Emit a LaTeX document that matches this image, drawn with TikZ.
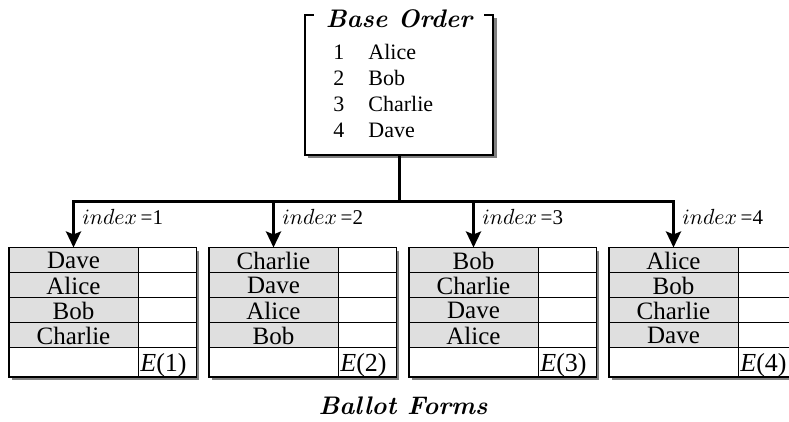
\documentclass[tikz,border=0pt]{standalone}
\usepackage{fontspec}
\newfontfamily\tnr{Liberation Serif}
\usetikzlibrary{arrows.meta}
\definecolor{cellgray}{gray}{0.875}
\definecolor{shadowgray}{gray}{0.5}
\tikzset{
  frame/.style={draw=black, line width=0.75pt},
  shadowfill/.style={fill=shadowgray, draw=none},
  cellbase/.style={draw=black, line width=0.5pt, inner sep=0pt, minimum height=12.5pt},
  namecell/.style={cellbase, fill=cellgray, minimum width=64.5pt, font=\tnr\fontsize{12.5}{14}\selectfont},
  sidecell/.style={cellbase, fill=white, minimum width=29pt},
  lastname/.style={cellbase, fill=white, minimum width=64.5pt, minimum height=14.5pt},
  lastside/.style={cellbase, fill=white, minimum width=29pt, minimum height=14.5pt},
  elabel/.style={font=\tnr\fontsize{13}{15}\selectfont, inner sep=0pt},
  idxlabel/.style={font=\tnr\fontsize{10.5}{12}\selectfont, inner sep=0pt, anchor=base west},
  listtext/.style={font=\tnr\fontsize{11}{13}\selectfont, inner sep=0pt, anchor=base west},
  titletext/.style={font=\bfseries\itshape\fontsize{12.7}{15}\selectfont, fill=white, inner xsep=6pt, inner ysep=1pt},
  feed/.style={line width=1.5pt, -{Stealth[length=8pt,width=7.5pt,inset=1.5pt]}},
  stem/.style={line width=1.5pt},
}
\begin{document}
\begin{tikzpicture}[x=0.5pt, y=-0.5pt]
  \clip (0,0) rectangle (789,422);
  \fill[white] (0,0) rectangle (789,422);

  % Base order box
  \fill[shadowfill] (308,18) rectangle (497,158);
  \node[frame, fill=white, minimum width=94pt, minimum height=70pt, inner sep=0pt] (base) at (399,85) {};
  \node[titletext] (title) at (399,19) {Base Order};
  \node[listtext] (n1) at (333,60) {1};
  \node[listtext] (a1) at (368,60) {Alice};
  \node[listtext] (n2) at (333,86) {2};
  \node[listtext] (a2) at (368,86) {Bob};
  \node[listtext] (n3) at (333,112) {3};
  \node[listtext] (a3) at (368,112) {Charlie};
  \node[listtext] (n4) at (333,138) {4};
  \node[listtext] (a4) at (368,138) {Dave};

  \coordinate (hub) at (399,202);
  \draw[stem] (base.south) -- (hub);

  % Ballot forms
  \foreach \k/\a/\b/\c/\d in {0/Dave/Alice/Bob/Charlie, 1/Charlie/Dave/Alice/Bob, 2/Bob/Charlie/Dave/Alice, 3/Alice/Bob/Charlie/Dave}{
    \pgfmathsetmacro\L{9+200*\k}
    \pgfmathtruncatemacro\num{\k+1}
    \fill[shadowfill] (\L+3,251) rectangle (\L+190,380);
    \node[namecell] (c\k-1) at (\L+64.5,260.5) {\a};
    \node[namecell] (c\k-2) at (\L+64.5,285.5) {\b};
    \node[namecell] (c\k-3) at (\L+64.5,310.5) {\c};
    \node[namecell] (c\k-4) at (\L+64.5,335.5) {\d};
    \node[sidecell] (s\k-1) at (\L+158,260.5) {};
    \node[sidecell] (s\k-2) at (\L+158,285.5) {};
    \node[sidecell] (s\k-3) at (\L+158,310.5) {};
    \node[sidecell] (s\k-4) at (\L+158,335.5) {};
    \node[lastname] (c\k-5) at (\L+64.5,362.5) {};
    \node[lastside] (s\k-5) at (\L+158,362.5) {};
    \draw[frame] (c\k-1.north west) rectangle (s\k-5.south east);
    \node[elabel, anchor=base east] (e\k) at (\L+178,372) {\textit{E}(\num)};
    \node[idxlabel] (i\k) at (\L+73,225) {$index$\,=\num};
    \draw[feed] (hub) -| (c\k-1.north);
  }

  \node[font=\bfseries\itshape\fontsize{12.7}{15}\selectfont, inner sep=0pt, anchor=base] (ballot) at (403,415) {Ballot Forms};
\end{tikzpicture}
\end{document}
